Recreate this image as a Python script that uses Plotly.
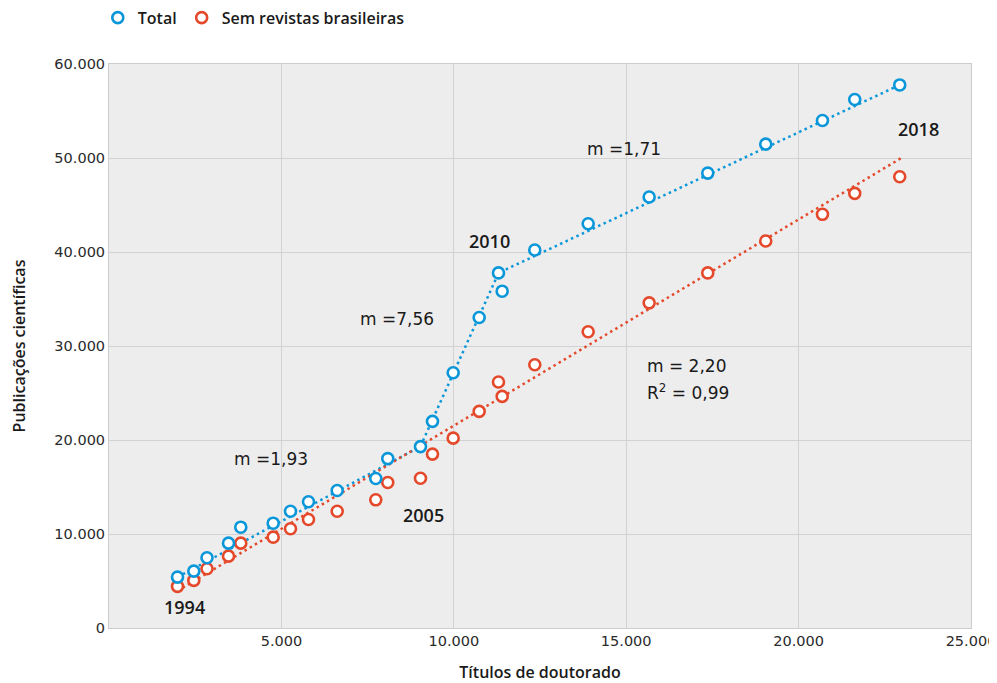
import plotly.graph_objects as go

# ---- data ----
years = list(range(1994, 2019))
titulos = [1987, 2459, 2842, 3466, 3822, 4762, 5264, 5786, 6618, 7737, 8085, 9034,
           9382, 9982, 10736, 11296, 11403, 12348, 13897, 15666, 17365, 19047, 20692,
           21628, 22933]
total = [5416, 6053, 7476, 9027, 10726, 11151, 12425, 13424, 14624, 15898, 18022, 19297,
         21983, 27155, 33028, 37775, 35832, 40218, 43011, 45847, 48395, 51475, 53992,
         56222, 57773]
sem_br = [4429, 5066, 6308, 7646, 9027, 9664, 10556, 11544, 12425, 13636, 15473, 15930,
          18500, 20199, 23045, 26168, 24638, 28005, 31510, 34589, 37775, 41174, 44009,
          46239, 48002]

# trend lines (segment end points)
total_trend_x = [1990, 9030, 11300, 22930]
total_trend_y = [5420, 19300, 37780, 57770]
sem_trend_x = [1990, 22980]
sem_trend_y = [3950, 50000]

x_ticks = [5000, 10000, 15000, 20000, 25000]
y_ticks = [0, 10000, 20000, 30000, 40000, 50000, 60000]

BLUE = "#0a97d9"
RED = "#e5492b"
TXT = "#1a1a1a"

fig = go.Figure()

fig.add_trace(go.Scatter(x=total_trend_x, y=total_trend_y, mode="lines",
                         line=dict(color=BLUE, width=2.5, dash="2.5px,3.5px"),
                         showlegend=False, hoverinfo="skip"))
fig.add_trace(go.Scatter(x=sem_trend_x, y=sem_trend_y, mode="lines",
                         line=dict(color=RED, width=2.5, dash="2.5px,3.5px"),
                         showlegend=False, hoverinfo="skip"))

fig.add_trace(go.Scatter(x=titulos, y=sem_br, mode="markers", name="Sem revistas brasileiras",
                         text=years,
                         marker=dict(symbol="circle", size=11, color="white",
                                     line=dict(color=RED, width=2.6))))
fig.add_trace(go.Scatter(x=titulos, y=total, mode="markers", name="Total",
                         text=years,
                         marker=dict(symbol="circle", size=11, color="white",
                                     line=dict(color=BLUE, width=2.6))))

ann_font = dict(family="DejaVu Sans", size=17, color=TXT)
yr_font = dict(family="Open Sans", size=18, color=TXT, weight=600)

annotations = [
    dict(x=4684, y=18025, text="m =1,93", font=ann_font),
    dict(x=8367, y=32890, text="m =7,56", font=ann_font),
    dict(x=14950, y=50945, text="m =1,71", font=ann_font),
    dict(x=15559, y=27900, text="m = 2,20", font=ann_font, xanchor="left"),
    dict(x=15559, y=25140, text="R<sup>2</sup> = 0,99", font=ann_font, xanchor="left"),
    dict(x=2190, y=2198, text="1994", font=yr_font),
    dict(x=9121, y=11969, text="2005", font=yr_font),
    dict(x=11035, y=41174, text="2010", font=yr_font),
    dict(x=23476, y=53069, text="2018", font=yr_font),
]
for a in annotations:
    a.update(xref="x", yref="y", showarrow=False)
    a.setdefault("xanchor", "center")
    a["yanchor"] = "middle"

grid = "#d2d2d2"
tick_font = dict(family="DejaVu Sans", size=14.5, color="#2a2a2a")
fig.update_layout(
    width=989, height=675,
    margin=dict(l=100.5, r=26.3, t=56.3, b=55.3, autoexpand=False),
    paper_bgcolor="white",
    plot_bgcolor="#ededed",
    separators=",.",
    font=dict(family="Open Sans", color=TXT),
    showlegend=True,
    legend=dict(orientation="h", x=-0.013, xanchor="left", y=1.082, yanchor="middle",
                font=dict(family="Open Sans", size=16, color=TXT, weight=600),
                traceorder="reversed", itemwidth=30, bgcolor="rgba(0,0,0,0)"),
    annotations=annotations,
    xaxis=dict(range=[0, 25000], tickvals=x_ticks, tickformat=",d",
               showgrid=True, gridcolor=grid, gridwidth=1, zeroline=False,
               showline=True, linecolor="#cccccc", linewidth=1, mirror=True,
               ticks="", tickfont=tick_font,
               title=dict(text="Títulos de doutorado", standoff=18,
                          font=dict(family="Open Sans", size=16, color=TXT, weight=600))),
    yaxis=dict(range=[0, 60000], tickvals=y_ticks, tickformat=",d",
               showgrid=True, gridcolor=grid, gridwidth=1, zeroline=False,
               showline=True, linecolor="#cccccc", linewidth=1, mirror=True,
               ticks="", tickfont=tick_font,
               title=dict(text="Publicações científicas", standoff=25,
                          font=dict(family="Open Sans", size=16, color=TXT, weight=600))),
)

fig.write_html("out.html")
